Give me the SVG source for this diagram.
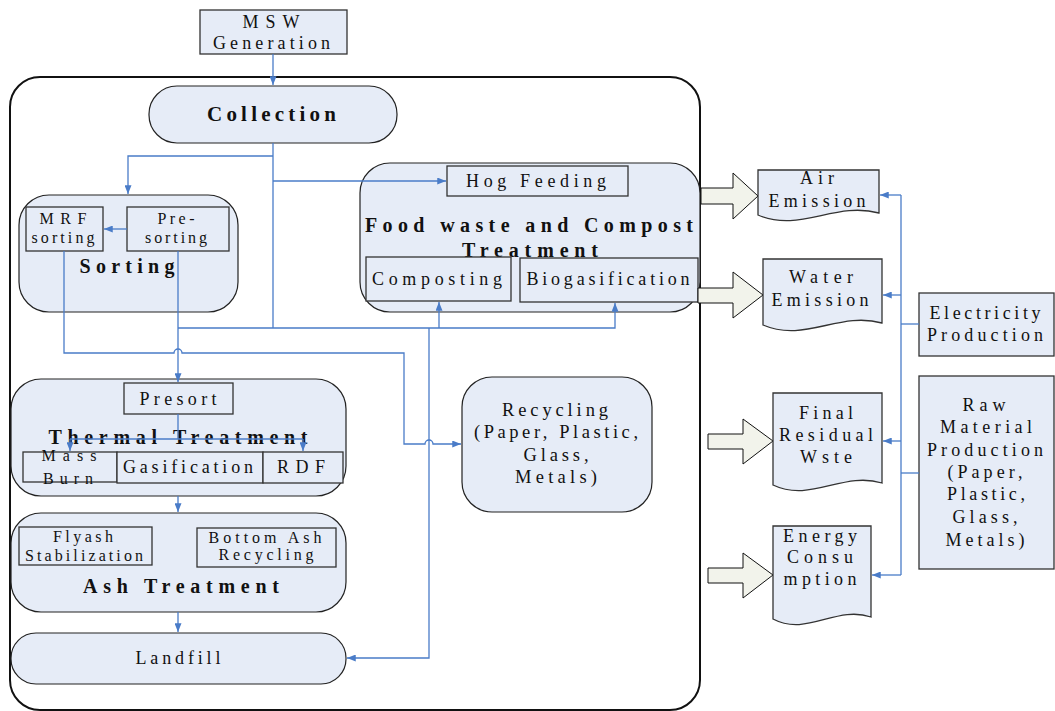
<svg xmlns="http://www.w3.org/2000/svg" width="1055" height="711" viewBox="0 0 1055 711">
<style>
.box{fill:#e6ecf7;stroke:#333;stroke-width:1.3}
.cont{fill:#e6ecf7;stroke:#222;stroke-width:1.2}
.outer{fill:none;stroke:#111;stroke-width:2}
.t{font-family:"Liberation Serif",serif;font-size:18px;fill:#111;text-anchor:middle}
.s{font-size:16px}
.m{font-size:18.5px}
.b{font-weight:bold;font-size:20px}
.c{fill:none;stroke:#4a7cc8;stroke-width:1.3}
.blk{fill:#f2f3eb;stroke:#111;stroke-width:1}
</style>
<defs>
<marker id="ah" viewBox="0 0 10 8" refX="10" refY="4" markerWidth="9" markerHeight="7" markerUnits="userSpaceOnUse" orient="auto">
<path d="M0,0 L10,4 L0,8 z" fill="#4a7cc8"/>
</marker>
</defs>
<rect x="0" y="0" width="1055" height="711" fill="#fff"/>

<g id="system-boundary"><rect class="outer" x="10" y="77" width="690" height="633" rx="30"/></g>

<g id="msw"><rect class="box" x="200" y="10" width="147" height="44"/>
<text class="t" x="271" y="28" textLength="57" lengthAdjust="spacing">MSW</text>
<text class="t" x="271.5" y="49" textLength="117" lengthAdjust="spacing">Generation</text></g>

<g id="collection"><rect class="cont" x="149" y="86" width="248" height="57" rx="28"/>
<text class="t b" x="271.5" y="121" style="font-size:21px" textLength="129" lengthAdjust="spacing">Collection</text></g>

<g id="sorting"><rect class="cont" x="19" y="195" width="219" height="117" rx="30"/>
<rect class="box" x="26" y="207" width="77" height="44"/>
<text class="t s" x="63" y="224" textLength="47" lengthAdjust="spacing">MRF</text>
<text class="t s" x="63" y="243" textLength="63" lengthAdjust="spacing">sorting</text>
<rect class="box" x="127" y="207" width="102" height="44"/>
<text class="t s" x="176" y="224" textLength="37" lengthAdjust="spacing">Pre-</text>
<text class="t s" x="176" y="243" textLength="62" lengthAdjust="spacing">sorting</text>
<text class="t b" x="127" y="273" textLength="95" lengthAdjust="spacing">Sorting</text></g>

<g id="food"><rect class="cont" x="360" y="163" width="340" height="149" rx="30"/>
<rect class="box" x="447" y="166" width="181" height="30"/>
<text class="t" x="536" y="187" textLength="140" lengthAdjust="spacing">Hog Feeding</text>
<text class="t b" x="529" y="232" textLength="328" lengthAdjust="spacing">Food waste and Compost</text>
<text class="t b" x="530" y="257" textLength="136" lengthAdjust="spacing">Treatment</text>
<rect class="box" x="366" y="257" width="145" height="44"/>
<text class="t" x="437" y="285" textLength="130" lengthAdjust="spacing">Composting</text>
<rect class="box" x="520" y="258" width="178" height="44"/>
<text class="t" x="608" y="285" textLength="163" lengthAdjust="spacing">Biogasification</text></g>

<g id="thermal"><rect class="cont" x="11" y="379" width="335" height="117" rx="30"/>
<rect class="box" x="124" y="383" width="109" height="31"/>
<text class="t" x="178" y="405" textLength="77" lengthAdjust="spacing">Presort</text>
<text class="t b" x="178" y="444" textLength="259" lengthAdjust="spacing">Thermal Treatment</text>
<rect class="box" x="23" y="452" width="94" height="30"/>
<text class="t s" x="69" y="461" textLength="55" lengthAdjust="spacing">Mass</text>
<text class="t s" x="68" y="484" textLength="50" lengthAdjust="spacing">Burn</text>
<rect class="box" x="117" y="452" width="146" height="31"/>
<text class="t" x="188" y="473" textLength="130" lengthAdjust="spacing">Gasification</text>
<rect class="box" x="263" y="452" width="80" height="31"/>
<text class="t" x="301" y="473" textLength="48" lengthAdjust="spacing">RDF</text></g>

<g id="ash"><rect class="cont" x="11" y="513" width="335" height="99" rx="30"/>
<rect class="box" x="19" y="527" width="133" height="38"/>
<text class="t s" x="83" y="542" textLength="60" lengthAdjust="spacing">Flyash</text>
<text class="t s" x="84" y="561" textLength="118" lengthAdjust="spacing">Stabilization</text>
<rect class="box" x="197" y="528" width="139" height="39"/>
<text class="t s" x="265" y="543" textLength="113" lengthAdjust="spacing">Bottom Ash</text>
<text class="t s" x="266" y="560" textLength="95" lengthAdjust="spacing">Recycling</text>
<text class="t b" x="181" y="593" textLength="196" lengthAdjust="spacing">Ash Treatment</text></g>

<g id="landfill"><rect class="cont" x="11" y="633" width="335" height="51" rx="25"/>
<text class="t" x="178" y="664" textLength="85" lengthAdjust="spacing">Landfill</text></g>

<g id="recycling"><rect class="cont" x="462" y="377" width="190" height="135" rx="30"/>
<text class="t m" x="555" y="416" textLength="106" lengthAdjust="spacing">Recycling</text>
<text class="t m" x="556" y="438" textLength="164" lengthAdjust="spacing">(Paper, Plastic,</text>
<text class="t m" x="556" y="461" textLength="65" lengthAdjust="spacing">Glass,</text>
<text class="t m" x="556" y="483" textLength="82" lengthAdjust="spacing">Metals)</text></g>

<g id="air"><path class="blk" d="M701,188 H733 V173 L758,196 L733,219 V204 H701 Z"/>
<path class="box" d="M758,170 H879 V213 C835,201 800,233 758,215 Z"/>
<text class="t" x="817" y="184" textLength="34" lengthAdjust="spacing">Air</text>
<text class="t" x="817" y="207" textLength="97" lengthAdjust="spacing">Emission</text></g>

<g id="water"><path class="blk" d="M698,288 H733 V272 L763,295 L733,318 V303 H698 Z"/>
<path class="box" d="M763,259 H882 V323 C839,311 805,343 763,325 Z"/>
<text class="t" x="821" y="283" textLength="64" lengthAdjust="spacing">Water</text>
<text class="t" x="820" y="306" textLength="97" lengthAdjust="spacing">Emission</text></g>

<g id="residual"><path class="blk" d="M708,434 H743 V419 L773,441 L743,464 V449 H708 Z"/>
<path class="box" d="M773,393 H882 V483 C843,471 811,503 773,485 Z"/>
<text class="t" x="826" y="419" textLength="54" lengthAdjust="spacing">Final</text>
<text class="t" x="826" y="441" textLength="94" lengthAdjust="spacing">Residual</text>
<text class="t" x="826" y="463" textLength="52" lengthAdjust="spacing">Wste</text></g>

<g id="energy"><path class="blk" d="M708,568 H743 V553 L773,575 L743,598 V583 H708 Z"/>
<path class="box" d="M773,526 H871 V617 C836,605 807,637 773,619 Z"/>
<text class="t" x="820" y="542" textLength="74" lengthAdjust="spacing">Energy</text>
<text class="t" x="820" y="563" textLength="66" lengthAdjust="spacing">Consu</text>
<text class="t" x="820" y="585" textLength="73" lengthAdjust="spacing">mption</text></g>

<g id="electricity"><rect class="box" x="919" y="293" width="135" height="63"/>
<text class="t" x="985" y="319" textLength="111" lengthAdjust="spacing">Electricity</text>
<text class="t" x="985" y="341" textLength="116" lengthAdjust="spacing">Production</text></g>

<g id="raw"><rect class="box" x="919" y="376" width="135" height="193"/>
<text class="t" x="984" y="411" textLength="43" lengthAdjust="spacing">Raw</text>
<text class="t" x="986" y="433" textLength="92" lengthAdjust="spacing">Material</text>
<text class="t" x="985" y="456" textLength="116" lengthAdjust="spacing">Production</text>
<text class="t" x="985" y="478" textLength="75" lengthAdjust="spacing">(Paper,</text>
<text class="t" x="986" y="500" textLength="78" lengthAdjust="spacing">Plastic,</text>
<text class="t" x="985" y="523" textLength="65" lengthAdjust="spacing">Glass,</text>
<text class="t" x="985" y="546" textLength="79" lengthAdjust="spacing">Metals)</text></g>

<g id="connectors">
<path class="c" d="M273,54 V85" marker-end="url(#ah)"/>
<path class="c" d="M273,143 V328"/>
<path class="c" d="M273,156 H128 V194" marker-end="url(#ah)"/>
<path class="c" d="M273,181 H446" marker-end="url(#ah)"/>
<path class="c" d="M127,229 H104" marker-end="url(#ah)"/>
<path class="c" d="M178,251 V382" marker-end="url(#ah)"/>
<path class="c" d="M178,328 H615 V303" marker-end="url(#ah)"/>
<path class="c" d="M439,328 V302" marker-end="url(#ah)"/>
<path class="c" d="M429,328 V658 H347" marker-end="url(#ah)"/>
<path class="c" d="M64,251 V353 H174 A4,4 0 0 1 182,353 H404 V444 H425 A4,4 0 0 1 433,444 H461" marker-end="url(#ah)"/>
<path class="c" d="M178,414 V439"/>
<path class="c" d="M70,439 H303"/>
<path class="c" d="M70,439 V451" marker-end="url(#ah)"/>
<path class="c" d="M303,439 V451" marker-end="url(#ah)"/>
<path class="c" d="M178,496 V512" marker-end="url(#ah)"/>
<path class="c" d="M178,612 V632" marker-end="url(#ah)"/>
<path class="c" d="M901,195 V575"/>
<path class="c" d="M901,195 H880" marker-end="url(#ah)"/>
<path class="c" d="M901,295 H883" marker-end="url(#ah)"/>
<path class="c" d="M901,441 H883" marker-end="url(#ah)"/>
<path class="c" d="M901,575 H872" marker-end="url(#ah)"/>
<path class="c" d="M919,324 H901"/>
<path class="c" d="M919,473 H901"/>
</g>
</svg>
